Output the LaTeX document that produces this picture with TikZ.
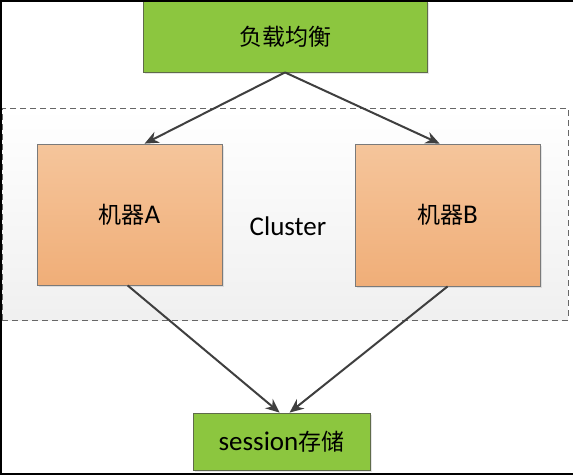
\documentclass[tikz,border=0pt]{standalone}
\usepackage{fontspec}
\setmainfont{Carlito}
\newfontfamily\cjk{Noto Sans CJK SC}
\usetikzlibrary{arrows.meta,calc,shadows}
\definecolor{lbgreen}{HTML}{8CC63F}
\definecolor{lbedge}{HTML}{5F6B4A}
\definecolor{mtop}{HTML}{F5C59B}
\definecolor{mbot}{HTML}{F0AE78}
\definecolor{medge}{HTML}{7A7A7A}
\definecolor{arr}{HTML}{3F3F3F}
\tikzset{
  greenbox/.style={draw=lbedge, line width=0.8pt, fill=lbgreen, inner sep=0pt,
    drop shadow={shadow xshift=2pt, shadow yshift=-2pt, opacity=0.2}},
  machine/.style={draw=medge, line width=0.8pt, top color=mtop, bottom color=mbot, inner sep=0pt,
    drop shadow={shadow xshift=2pt, shadow yshift=-2pt, opacity=0.2}},
  clusterbox/.style={draw=black!60, dashed, dash pattern=on 6pt off 4pt, line width=0.9pt,
    top color=white, bottom color=black!6, inner sep=0pt},
  conn/.style={draw=arr, line width=2pt, -{Stealth[length=14pt,width=12pt]}},
  lbl/.style={font=\fontsize{23}{26}\selectfont},
  latin/.style={font=\fontsize{27}{30}\selectfont}
}
\newcommand{\lat}{\fontsize{27}{30}\selectfont\rmfamily}
\begin{document}
\begin{tikzpicture}[x=1pt,y=-1pt]
\useasboundingbox (0,0) rectangle (573,475);
\fill[white] (0,0) rectangle (573,475);
% cluster
\node[clusterbox, minimum width=566pt, minimum height=212pt] (cl) at (285,214) {};
\node[latin] (clt) at (288,226) {Cluster};
% load balancer
\node[greenbox, minimum width=284pt, minimum height=71pt, lbl] (lb) at (285,36.5) {\cjk 负载均衡};
% machines
\node[machine, minimum width=185pt, minimum height=141pt, lbl] (ma) at (129.5,214.5) {\cjk 机器\lat A};
\node[machine, minimum width=185pt, minimum height=142pt, lbl] (mb) at (447.5,215) {\cjk 机器\lat B};
% session
\node[greenbox, minimum width=177pt, minimum height=57pt, lbl] (ss) at (281.5,441.5) {\lat session\cjk\fontsize{23}{26}\selectfont 存储};
% connectors
\draw[conn] (lb.south) -- ([xshift=108pt]ma.north west);
\draw[conn] (lb.south) -- ([xshift=85pt]mb.north west);
\draw[conn] ([xshift=91pt]ma.south west) -- ([xshift=87pt]ss.north west);
\draw[conn] ([xshift=93pt]mb.south west) -- ([xshift=97pt]ss.north west);
% frame
\draw[black, line width=1.5pt] (573,0.75) -- (0.75,0.75) -- (0.75,474) -- (573,474);
\end{tikzpicture}
\end{document}
